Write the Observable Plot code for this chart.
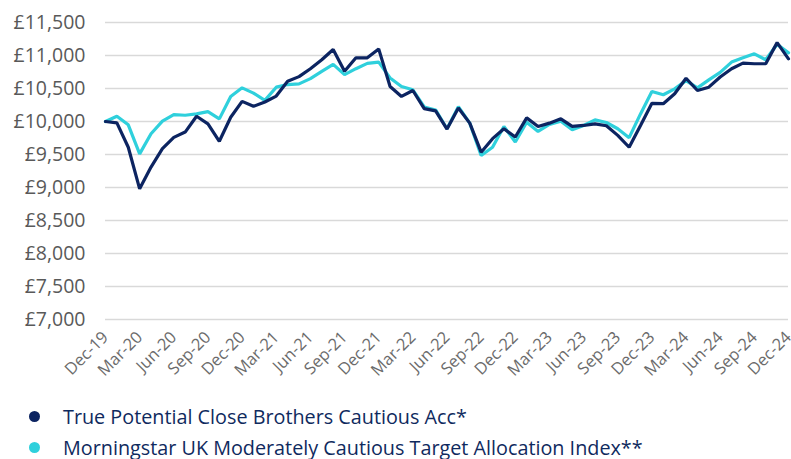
<!DOCTYPE html>
<html>
<head>
<meta charset="utf-8">
<script src="https://cdn.jsdelivr.net/npm/d3@7"></script>
<script src="https://cdn.jsdelivr.net/npm/@observablehq/plot@0.6"></script>
<style>
  html, body { margin: 0; padding: 0; background: #fff; }
  body { width: 791px; height: 459px; overflow: hidden; font-family: "Open Sans", sans-serif; }
  #legend { position: absolute; left: 0; top: 401px; }
  .item { display: flex; align-items: center; height: 31px; color: #0f2a5e; font-size: 19.8px; line-height: 24px; white-space: nowrap; }
  .dot { width: 11px; height: 11px; border-radius: 50%; margin-left: 28.5px; margin-right: 23.5px; flex: none; }
</style>
</head>
<body>
<div id="chart"></div>
<div id="legend"></div>
<script>
const seriesNames = [
  "True Potential Close Brothers Cautious Acc*",
  "Morningstar UK Moderately Cautious Target Allocation Index**"
];
const seriesColors = ["#0c2461", "#2fd0dc"];

// Monthly values Dec-19 .. Dec-24 (61 months)
const fundValues = [
  10000, 9980, 9610, 8980, 9310, 9590, 9760, 9840, 10080, 9965, 9700, 10065, 10305,
  10230, 10295, 10385, 10610, 10680, 10800, 10935, 11090, 10760, 10965, 10965, 11100,
  10530, 10380, 10470, 10195, 10160, 9885, 10205, 9975, 9535, 9740, 9890, 9765,
  10055, 9925, 9975, 10040, 9925, 9940, 9965, 9935, 9790, 9610, 9940, 10275,
  10270, 10420, 10655, 10470, 10520, 10675, 10800, 10885, 10875, 10875, 11195, 10950
];
const indexValues = [
  10000, 10080, 9950, 9510, 9815, 10005, 10105, 10095, 10115, 10150, 10040, 10380, 10510,
  10430, 10320, 10520, 10560, 10570, 10650, 10760, 10865, 10710, 10800, 10880, 10900,
  10660, 10530, 10480, 10220, 10175, 9890, 10225, 9975, 9485, 9610, 9925, 9690,
  9990, 9850, 9955, 10005, 9875, 9940, 10025, 9985, 9890, 9755, 10115, 10455,
  10405, 10495, 10620, 10510, 10630, 10745, 10900, 10965, 11025, 10935, 11170, 11040
];
const xTickLabels = [
  "Dec-19","Mar-20","Jun-20","Sep-20","Dec-20","Mar-21","Jun-21","Sep-21","Dec-21",
  "Mar-22","Jun-22","Sep-22","Dec-22","Mar-23","Jun-23","Sep-23","Dec-23","Mar-24",
  "Jun-24","Sep-24","Dec-24"
];
const yTicks = [7000, 7500, 8000, 8500, 9000, 9500, 10000, 10500, 11000, 11500];

const data = [];
fundValues.forEach((v, i) => data.push({i, v, s: seriesNames[0]}));
indexValues.forEach((v, i) => data.push({i, v, s: seriesNames[1]}));
const xTicks = xTickLabels.map((_, k) => k * 3);

const fmt = d3.format(",");
const chart = Plot.plot({
  width: 791,
  height: 392,
  marginLeft: 105,
  marginRight: 3,
  marginTop: 22,
  marginBottom: 73,
  style: { fontFamily: "Open Sans, sans-serif", fontSize: "17px", color: "#595959", background: "#fff" },
  x: { domain: [0, 60], ticks: xTicks, tickFormat: d => xTickLabels[d / 3], tickRotate: -45, tickSize: 0, tickPadding: 15, label: null },
  y: { domain: [7000, 11500], ticks: yTicks, tickFormat: d => "£" + fmt(d), tickSize: 0, tickPadding: 20, label: null },
  color: { domain: seriesNames, range: seriesColors },
  marks: [
    Plot.gridY(yTicks, { stroke: "#d9d9d9", strokeOpacity: 1, strokeWidth: 1.3 }),
    Plot.line(data.filter(d => d.s === seriesNames[1]), { x: "i", y: "v", stroke: "s", strokeWidth: 3.2, strokeLinejoin: "miter" }),
    Plot.line(data.filter(d => d.s === seriesNames[0]), { x: "i", y: "v", stroke: "s", strokeWidth: 3.2, strokeLinejoin: "miter" })
  ]
});
d3.select(chart).selectAll("g[aria-label='y-axis tick label'] text").style("font-size", "19.5px");
d3.select(chart).selectAll("g[aria-label='x-axis tick label'] text").style("font-size", "16.5px").style("fill", "#6b6b6b");
document.getElementById("chart").appendChild(chart);

const legend = document.getElementById("legend");
seriesNames.forEach((n, k) => {
  const row = document.createElement("div");
  row.className = "item";
  row.innerHTML = `<span class="dot" style="background:${seriesColors[k]}"></span><span>${n}</span>`;
  legend.appendChild(row);
});
</script>
</body>
</html>
